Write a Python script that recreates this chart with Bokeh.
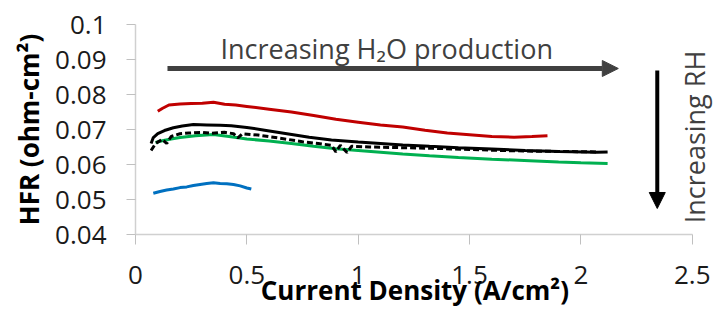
from bokeh.plotting import figure
from bokeh.models import Range1d, FixedTicker, NumeralTickFormatter, Arrow, NormalHead, Label
from bokeh.embed import file_html
from bokeh.resources import INLINE

# ---- data ----
x_ticks = [0, 0.5, 1, 1.5, 2, 2.5]
y_ticks = [0.04, 0.05, 0.06, 0.07, 0.08, 0.09, 0.1]

blue_x = [0.08, 0.11, 0.14, 0.17, 0.20, 0.23, 0.26, 0.29, 0.32, 0.35, 0.38, 0.41, 0.44, 0.47, 0.50, 0.52]
blue_y = [0.0518, 0.0523, 0.0527, 0.0530, 0.0534, 0.0536, 0.0540, 0.0543, 0.0546, 0.0548, 0.0546,
          0.0545, 0.0543, 0.0539, 0.0533, 0.0530]

red_x = [0.10, 0.12, 0.15, 0.20, 0.25, 0.30, 0.35, 0.40, 0.45, 0.50, 0.60, 0.70, 0.80, 0.90, 1.00,
         1.10, 1.20, 1.30, 1.40, 1.50, 1.60, 1.70, 1.78, 1.85]
red_y = [0.0752, 0.0760, 0.0770, 0.0773, 0.0774, 0.0775, 0.0778, 0.0772, 0.0770, 0.0766, 0.0758,
         0.0750, 0.0740, 0.0729, 0.0721, 0.0713, 0.0707, 0.0698, 0.0690, 0.0685, 0.0680, 0.0678,
         0.0680, 0.0682]

green_x = [0.09, 0.12, 0.16, 0.20, 0.27, 0.35, 0.42, 0.50, 0.60, 0.70, 0.80, 0.90, 1.00, 1.10,
           1.20, 1.32, 1.45, 1.60, 1.77, 1.90, 2.00, 2.12]
green_y = [0.0663, 0.0668, 0.0673, 0.0677, 0.0682, 0.0686, 0.0680, 0.0673, 0.0667, 0.0660, 0.0652,
           0.0645, 0.0640, 0.0635, 0.0630, 0.0625, 0.0620, 0.0615, 0.0611, 0.0607, 0.0605, 0.0603]

black_x = [0.07, 0.08, 0.10, 0.13, 0.17, 0.21, 0.26, 0.32, 0.38, 0.43, 0.50, 0.58, 0.68, 0.78,
           0.88, 1.00, 1.10, 1.20, 1.32, 1.45, 1.60, 1.75, 1.90, 2.07, 2.12]
black_y = [0.0660, 0.0677, 0.0688, 0.0697, 0.0705, 0.0710, 0.0714, 0.0713, 0.0712, 0.0711, 0.0706,
           0.0698, 0.0688, 0.0678, 0.0670, 0.0664, 0.0660, 0.0656, 0.0652, 0.0648, 0.0644, 0.0640,
           0.0637, 0.0635, 0.0636]

dash_x = [0.07, 0.09, 0.12, 0.14, 0.16, 0.20, 0.24, 0.30, 0.34, 0.40, 0.44, 0.46, 0.48, 0.55,
          0.65, 0.75, 0.82, 0.88, 0.90, 0.92, 0.95, 0.97, 1.05, 1.20, 1.35, 1.50, 1.65, 1.80,
          1.95, 2.07]
dash_y = [0.0640, 0.0660, 0.0672, 0.0660, 0.0680, 0.0688, 0.0690, 0.0692, 0.0689, 0.0692, 0.0688,
          0.0676, 0.0688, 0.0684, 0.0675, 0.0665, 0.0660, 0.0655, 0.0636, 0.0655, 0.0634, 0.0652,
          0.0650, 0.0648, 0.0646, 0.0643, 0.0640, 0.0638, 0.0637, 0.0636]

FONT = "Open Sans"

p = figure(width=725, height=312, output_backend="svg", toolbar_location=None,
           x_range=Range1d(0, 2.6), y_range=Range1d(0.04, 0.1),
           min_border_left=135, min_border_right=11, min_border_top=24, min_border_bottom=78)
p.outline_line_color = None
p.grid.visible = False
p.background_fill_color = "white"
p.border_fill_color = "white"

for ax in (p.xaxis[0], p.yaxis[0]):
    ax.axis_line_color = "#d0d0d0"
    ax.axis_line_width = 1.5
    ax.major_tick_line_color = "#c0c0c0"
    ax.major_tick_in = 0
    ax.minor_tick_line_color = None
    ax.major_label_text_font = FONT
    ax.major_label_text_font_size = "26px"
    ax.major_label_text_color = "#1a1a1a"
    ax.axis_label_text_font = FONT
    ax.axis_label_text_font_style = "bold"
    ax.axis_label_text_color = "#000000"
    ax.axis_label_text_font_size = "26px"

p.xaxis.ticker = FixedTicker(ticks=x_ticks)
p.yaxis.ticker = FixedTicker(ticks=y_ticks)
p.xaxis.bounds = (0, 2.5)
p.xaxis.formatter = NumeralTickFormatter(format="0.[0]")
p.yaxis.formatter = NumeralTickFormatter(format="0.0[0]")
p.xaxis.major_tick_out = 10
p.yaxis.major_tick_out = 9
p.xaxis.major_label_standoff = 21
p.yaxis.major_label_standoff = 20

# trailing no-break spaces shift the centred title left onto the 0-2.5 span
p.xaxis.axis_label = "Current Density (A/cm²)\u00a0\u00a0\u00a0"
p.xaxis.axis_label_standoff = -15
p.yaxis.axis_label = "HFR (ohm-cm²)"
p.yaxis.axis_label_standoff = 5

LW = 3
p.line(blue_x, blue_y, line_color="#0070C0", line_width=LW)
p.line(red_x, red_y, line_color="#C00000", line_width=LW)
p.line(green_x, green_y, line_color="#00B050", line_width=LW)
p.line(black_x, black_y, line_color="#000000", line_width=LW)
p.line(dash_x, dash_y, line_color="#000000", line_width=LW, line_dash="6 3")

# annotations
p.add_layout(Arrow(x_start=0.1436, y_start=0.08743, x_end=2.168, y_end=0.08743,
                   line_color="#404040", line_width=5,
                   end=NormalHead(size=16, fill_color="#404040", line_color="#404040")))
p.add_layout(Arrow(x_start=2.343, y_start=0.08686, x_end=2.343, y_end=0.04743,
                   line_color="#000000", line_width=4,
                   end=NormalHead(size=16, fill_color="#000000", line_color="#000000")))
p.add_layout(Label(x=0.3815, y=0.09314, text="Increasing H₂O production",
                   text_font=FONT, text_font_size="27px", text_color="#404040",
                   text_baseline="alphabetic", text_align="left"))
p.add_layout(Label(x=2.511, y=0.06786, text="Increasing RH", angle=90, angle_units="deg",
                   text_font=FONT, text_font_size="27px", text_color="#404040",
                   text_baseline="middle", text_align="center"))

open("out.html", "w").write(file_html(p, INLINE))
